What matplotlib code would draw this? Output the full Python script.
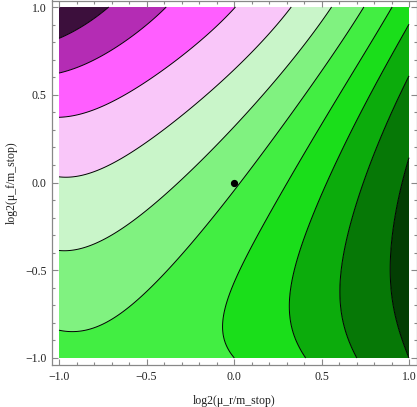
import numpy as np
import matplotlib
matplotlib.use("Agg")
import matplotlib.pyplot as plt
from matplotlib.ticker import MultipleLocator, FixedLocator

# Contour lines (x = log2(mu_r/m_stop), y = log2(mu_f/m_stop)),
# ordered from the top-left (lowest level) to the bottom-right (highest level).
L1_x = [-1.0, -0.909, -0.813, -0.737, -0.709]
L1_y = [0.832, 0.890, 0.928, 0.976, 1.0]
L2_x = [-1.0, -0.833, -0.642, -0.490, -0.394, -0.377]
L2_y = [0.601, 0.662, 0.757, 0.862, 0.956, 1.0]
L3_x = [-1.0, -0.833, -0.642, -0.451, -0.337, -0.223, -0.109, -0.023]
L3_y = [0.349, 0.415, 0.510, 0.634, 0.719, 0.814, 0.909, 1.0]
L4_x = [-1.0, -0.833, -0.642, -0.490, -0.394, -0.337, -0.147, 0.044, 0.177, 0.297]
L4_y = [0.039, 0.092, 0.168, 0.254, 0.329, 0.386, 0.529, 0.690, 0.833, 1.0]
L5_x = [-1.0, -0.904, -0.794, -0.642, -0.490, -0.337, -0.223, -0.109, 0.044, 0.234, 0.349, 0.463, 0.587]
L5_y = [-0.392, -0.383, -0.348, -0.277, -0.182, -0.070, 0.035, 0.149, 0.320, 0.510, 0.662, 0.824, 0.994]
L6_x = [-1.0, -0.874, -0.770, -0.642, -0.490, -0.337, -0.261, -0.109, 0.002, 0.120, 0.291, 0.349, 0.501, 0.616, 0.749]
L6_y = [-0.830, -0.855, -0.830, -0.735, -0.593, -0.450, -0.365, -0.175, -0.022, 0.130, 0.339, 0.436, 0.662, 0.842, 1.0]
L7_x = [-0.004, -0.051, -0.051, -0.013, 0.006, 0.082, 0.196, 0.349, 0.491, 0.691, 0.896]
L7_y = [-1.0, -0.839, -0.725, -0.591, -0.534, -0.345, -0.174, 0.105, 0.339, 0.664, 1.0]
L8_x = [0.396, 0.326, 0.331, 0.394, 0.537, 0.680, 0.851, 1.0]
L8_y = [-0.994, -0.670, -0.481, -0.328, -0.003, 0.339, 0.643, 0.909]
L9_x = [0.710, 0.625, 0.625, 0.653, 0.701, 0.749, 0.863, 1.0]
L9_y = [-0.993, -0.670, -0.480, -0.290, -0.100, 0.0, 0.339, 0.567]
L10_x = [0.987, 0.901, 0.882, 0.901, 0.949, 0.996]
L10_y = [-0.993, -0.670, -0.480, -0.290, -0.138, 0.149]

band_colors = ["#3c0f3c", "#b42cb4", "#ff5eff", "#f9c6f9", "#c9f5c9",
               "#80f280", "#42ee42", "#1ade1a", "#0cac0c", "#067806", "#033e03"]

central_point = (0.0, 0.0)
tick_values = [-1.0, -0.5, 0.0, 0.5, 1.0]
tick_labels = ["\u22121.0", "\u22120.5", "0.0", "0.5", "1.0"]
x_label = "log2(\u03bc_r/m_stop)"
y_label = "log2(\u03bc_f/m_stop)"

# ---- smooth surface whose level sets pass through the traced contour lines ----
lines = [(L1_x, L1_y), (L2_x, L2_y), (L3_x, L3_y), (L4_x, L4_y), (L5_x, L5_y),
         (L6_x, L6_y), (L7_x, L7_y), (L8_x, L8_y), (L9_x, L9_y), (L10_x, L10_y)]
px, py, pz = [], [], []
for k, (lx, ly) in enumerate(lines, start=1):
    px += lx; py += ly; pz += [k] * len(lx)
px, py, pz = map(np.asarray, (px, py, pz))

deg = 5
terms = [(i, j) for i in range(deg + 1) for j in range(deg + 1 - i)]
def design(x, y):
    return np.stack([x**i * y**j for i, j in terms], axis=-1)
A = design(px, py)
lam = 1e-3
coef = np.linalg.solve(A.T @ A + lam * np.eye(len(terms)), A.T @ pz)

g = np.linspace(-1, 1, 401)
GX, GY = np.meshgrid(g, g)
Z = design(GX, GY) @ coef

# ---- figure ----
plt.rcParams['font.family'] = ['Liberation Serif', 'DejaVu Serif']
fig = plt.figure(figsize=(4.17, 4.07), dpi=100)
W, H = 417, 407
ax = fig.add_axes([52 / W, 1 - 365 / H, (416.5 - 52) / W, (365 - 0.5) / H])

levels = [-1e9] + list(range(1, 11)) + [1e9]
ax.contourf(GX, GY, Z, levels=levels, colors=band_colors, antialiased=True)
ax.contour(GX, GY, Z, levels=list(range(1, 11)), colors="black", linewidths=0.7)
ax.plot([central_point[0]], [central_point[1]], "o", color="black", ms=4.2)

ax.set_xlim((52 - 234) / 175, (416.5 - 234) / 175)
ax.set_ylim((182.5 - 365) / 175.5, (182.5 - 0.5) / 175.5)

ax.xaxis.set_major_locator(FixedLocator(tick_values))
ax.yaxis.set_major_locator(FixedLocator(tick_values))
ax.set_xticklabels(tick_labels)
ax.set_yticklabels(tick_labels)
ax.xaxis.set_minor_locator(FixedLocator(np.round(np.arange(-1.0, 1.01, 0.1), 2)))
ax.yaxis.set_minor_locator(FixedLocator(np.round(np.arange(-1.0, 1.01, 0.1), 2)))
ax.tick_params(which="both", direction="in", top=True, right=True, color="#888888",
               labelsize=8.5, labelcolor="#222222", width=0.8)
ax.tick_params(which="major", length=4.5, pad=4)
ax.tick_params(which="minor", length=2.5)
for s in ax.spines.values():
    s.set_color("#888888")
    s.set_linewidth(0.9)

ax.set_xlabel(x_label, fontsize=8.5, color="#222222", labelpad=9)
ax.set_ylabel(y_label, fontsize=8.5, color="#222222", labelpad=5)

fig.savefig("out.png", dpi=100)
